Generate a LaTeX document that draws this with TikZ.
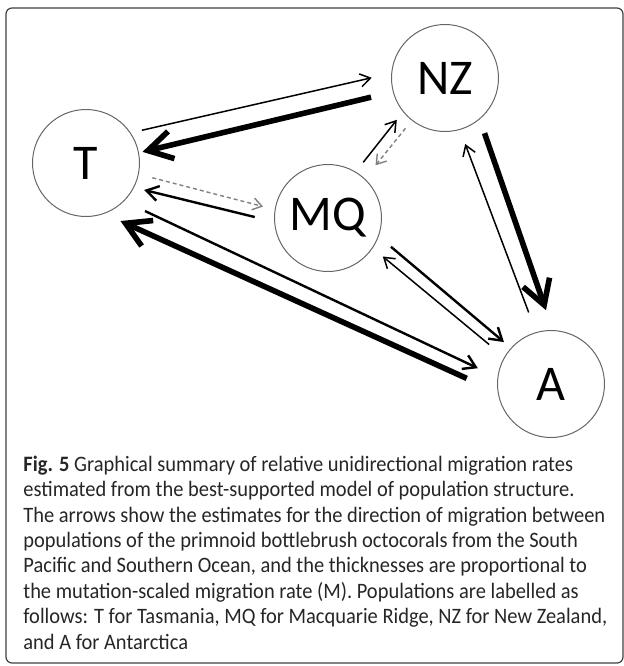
\documentclass[tikz,border=0pt]{standalone}
\usepackage{fontspec}
\setmainfont{Carlito}
\newfontfamily\capfont[FakeStretch=0.93]{Carlito}
\usetikzlibrary{arrows.meta, positioning}

\begin{document}
\begin{tikzpicture}[x=0.5pt, y=-0.5pt,
    pop/.style={circle, draw=black!60, line width=0.5pt, minimum size=53.5pt, inner sep=0pt, font=\fontsize{25}{30}\selectfont},
    lite/.style={line width=0.75pt, -{Straight Barb[length=5pt, width=6.5pt]}},
    mid/.style={line width=1.2pt, -{Straight Barb[length=6pt, width=7.5pt]}},
    heavy/.style={line width=2.8pt, -{Straight Barb[length=12pt, width=14pt]}},
    faint/.style={line width=0.7pt, draw=black!50, dash pattern=on 2pt off 1.5pt, -{Straight Barb[length=4.5pt, width=6pt]}}]
  \useasboundingbox (0,0) rectangle (624,666);
  \draw[black!75, line width=0.6pt, rounded corners=3pt] (6,8) rectangle (623,663);

  \node[pop] (T) at (86,163) {T};
  \node[pop] (NZ) at (445,78) {NZ};
  \node[pop] (MQ) at (328,218) {MQ};
  \node[pop] (A) at (551,384) {A};

  \path (T.34) edge[lite, shorten <=5.7pt, shorten >=10pt] (NZ.175)
        (NZ.195) edge[heavy, shorten <=11.2pt, shorten >=1.8pt] (T.11)
        (T.348) edge[faint, shorten <=7pt, shorten >=6pt] (MQ.171)
        (MQ.184) edge[mid, shorten <=10pt, shorten >=5.2pt] (T.333)
        (T.315) edge[mid, shorten <=11.5pt, shorten >=10.8pt] (A.173)
        (A.189) edge[heavy, shorten <=17pt, shorten >=8.8pt] (T.290)
        (MQ.59) edge[lite, shorten <=6pt, shorten >=5pt] (NZ.219)
        (NZ.232) edge[faint, shorten <=5pt, shorten >=8.5pt] (MQ.47)
        (MQ.340) edge[mid, shorten <=8pt, shorten >=4.5pt] (A.138)
        (A.150) edge[lite, shorten <=9.8pt, shorten >=6.5pt] (MQ.326)
        (NZ.310) edge[heavy, shorten <=7.3pt, shorten >=10.5pt] (A.88)
        (A.106) edge[lite, shorten <=10.5pt, shorten >=7.5pt] (NZ.286);

  \node[anchor=base west, align=left, inner sep=0pt, text=black!85,
        font=\capfont\fontsize{11}{12.7}\selectfont] (caption) at (23,649)
    {\textbf{Fig. 5} Graphical summary of relative unidirectional migration rates\\
     estimated from the best-supported model of population structure.\\
     The arrows show the estimates for the direction of migration between\\
     populations of the primnoid bottlebrush octocorals from the South\\
     Pacific and Southern Ocean, and the thicknesses are proportional to\\
     the mutation-scaled migration rate (M). Populations are labelled as\\
     follows: T for Tasmania, MQ for Macquarie Ridge, NZ for New Zealand,\\
     and A for Antarctica};
\end{tikzpicture}
\end{document}
